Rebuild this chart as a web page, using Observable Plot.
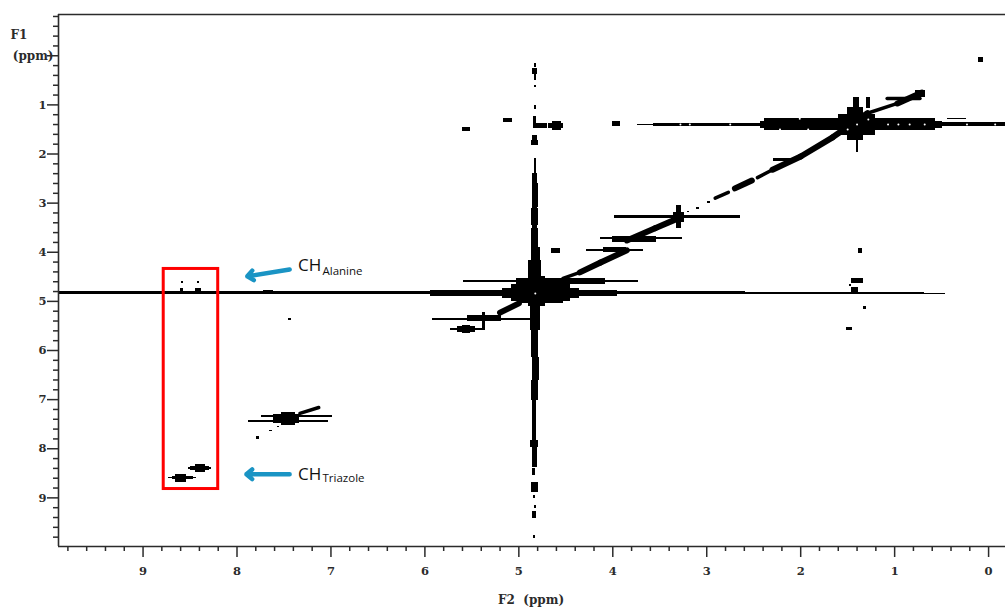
<!DOCTYPE html>
<html>
<head>
<meta charset="utf-8">
<style>html,body{margin:0;padding:0;background:#fff;overflow:hidden}svg{display:block}</style>
<script src="https://cdn.jsdelivr.net/npm/d3@7"></script>
<script src="https://cdn.jsdelivr.net/npm/@observablehq/plot@0.6"></script>
</head>
<body>
<script>
// 2D NMR contour read-off, all values in ppm: [F2 left, F2 right, F1 top, F1 bottom]
const horizontalRidges = [
  [9.90,5.94,4.80,4.87],[5.94,5.15,4.78,4.90],[4.35,3.95,4.78,4.90],[3.95,2.59,4.80,4.87],
  [2.59,0.68,4.81,4.86],[0.68,0.46,4.84,4.86],
  [5.59,3.73,4.57,4.62],[5.02,4.08,4.54,4.65],
  [5.92,4.88,5.34,5.38],[5.55,5.18,5.29,5.41],
  [3.98,2.64,3.26,3.31],
  [4.13,3.26,3.70,3.74],[4.00,3.53,3.67,3.80],
  [4.28,3.67,3.94,3.98],[4.10,3.85,3.91,4.01],
  [3.74,3.57,1.39,1.42],[3.57,2.43,1.37,1.44],[2.43,0.49,1.34,1.48],[2.38,0.57,1.28,1.52],
  [0.49,-0.18,1.36,1.44],[0.44,0.23,1.27,1.30],
  [7.88,7.03,7.42,7.46],[7.74,6.98,7.32,7.36],
  [2.29,2.02,2.09,2.15]
];
const verticalRidge = [
  [4.83,4.81,2.09,2.40],[4.85,4.805,2.40,2.60],[4.86,4.79,2.60,3.09],[4.85,4.80,3.09,3.11],[4.87,4.79,3.11,3.45],
  [4.85,4.80,3.45,3.52],[4.87,4.79,3.52,3.90],[4.87,4.77,3.90,4.17],[4.895,4.755,4.17,4.51],
  [4.88,4.77,4.98,5.59],[4.87,4.795,5.59,6.14],[4.86,4.78,6.14,6.61],[4.87,4.795,6.61,7.02],
  [4.85,4.815,7.02,7.83],[4.875,4.79,7.83,7.98],[4.85,4.80,7.98,8.38],[4.85,4.825,8.40,8.55],
  [4.87,4.79,8.69,8.89],[4.845,4.825,8.95,9.01],[4.835,4.815,9.16,9.22],[4.85,4.81,9.28,9.42],
  [4.84,4.82,9.77,9.83],
  [4.83,4.815,0.15,0.24],[4.85,4.805,0.26,0.38],[4.83,4.815,0.38,0.50],[4.83,4.815,0.60,0.64],
  [4.83,4.815,1.01,1.09],[4.84,4.81,1.23,1.48],[4.86,4.80,1.62,1.72],[4.87,4.79,1.72,1.82]
];
const waterBlob = [
  [5.17,4.35,4.74,4.95],[5.08,4.45,4.66,5.00],[5.00,4.53,4.55,5.05],[4.90,4.72,4.50,5.10]
];
const peaks = [
  [5.73,5.36,5.55,5.59],[5.65,5.46,5.51,5.63],[5.60,5.51,5.49,5.65],[5.39,5.36,5.23,5.55],
  [3.32,3.27,3.05,3.51],[3.35,3.24,3.19,3.39],
  [1.60,1.20,1.20,1.62],[1.50,1.33,1.05,1.72],[1.41,1.39,1.68,1.97],[1.44,1.37,0.85,1.17],[1.30,1.26,0.85,1.07],
  [0.11,0.05,0.04,0.13],
  [5.60,5.51,1.46,1.54],[5.16,5.07,1.28,1.36],[4.84,4.69,1.38,1.48],[4.68,4.52,1.38,1.48],[4.64,4.55,1.34,1.52],[4.00,3.92,1.34,1.44],
  [4.65,4.56,3.92,4.02],
  [1.39,1.34,3.92,4.02],[1.46,1.33,4.53,4.64],[1.48,1.46,4.66,4.70],[1.46,1.39,4.72,4.82],[1.33,1.30,5.10,5.17],[1.51,1.45,5.53,5.59],
  [8.59,8.57,4.59,4.64],[8.42,8.40,4.59,4.64],[8.60,8.57,4.73,4.81],[8.44,8.38,4.73,4.81],
  [7.72,7.61,4.78,4.81],[7.45,7.42,5.35,5.39],
  [7.61,7.33,7.30,7.48],[7.53,7.38,7.26,7.53],
  [7.65,7.62,7.62,7.65],[7.79,7.76,7.75,7.81],[7.565,7.55,7.54,7.56],
  [8.73,8.43,8.58,8.61],[8.69,8.46,8.555,8.635],[8.65,8.54,8.53,8.68],
  [8.52,8.27,8.39,8.42],[8.49,8.29,8.365,8.445],[8.44,8.33,8.32,8.49],
  [2.99,2.96,2.96,3.00],[3.11,3.08,3.09,3.13],[3.20,3.18,3.18,3.20],
  [0.78,0.67,0.70,0.84]
];
// diagonal ridges: [F2 from, F1 from, F2 to, F1 to]
const diagonalWide = [
  [3.28,3.29,3.55,3.51],[3.55,3.51,3.85,3.76],
  [3.85,3.96,4.13,4.21],[4.13,4.21,4.35,4.41],[5.00,5.04,5.20,5.23],
  [2.52,2.54,2.70,2.70],[2.30,2.32,2.00,2.05],[2.00,2.05,1.66,1.66],[1.66,1.66,1.29,1.17],[0.97,0.97,0.71,0.75]
];
const diagonalNarrow = [
  [4.35,4.41,4.53,4.53],
  [2.46,2.48,2.30,2.32],[1.29,1.17,0.97,0.97],
  [1.08,0.87,0.73,0.87],[2.77,2.78,2.91,2.90],[7.33,7.28,7.13,7.16]
];
const holes = [
  [4.825,4.84],[2.01,1.28],[1.92,1.50],[2.22,1.50],[1.07,1.40],[0.96,1.40],[0.84,1.40],[0.68,1.40],
  [1.50,1.50],[1.28,1.30],[1.40,1.40],[0.23,1.40],[-0.07,1.40],[3.28,1.40],[3.18,1.40],[2.75,1.40]
];
const regionBox = [[8.78,8.20,4.34,8.82]];
const arrows = [[7.44,4.35,7.89,4.49],[7.44,8.52,7.90,8.52]];
const mainLabels = [["CH",7.35,4.27],["CH",7.35,8.52]];
const subLabels = [["Alanine",7.09,4.38],["Triazole",7.09,8.60]];
const axisTitles = [["F1",10.32,-0.41],["(ppm)",10.17,0.01],["F2  (ppm)",4.87,11.09]];
const f2Major = [9,8,7,6,5,4,3,2,1,0];
const f2Minor = d3.range(49).map(i => +(9.8 - i * 0.2).toFixed(1)).filter(v => v >= 0 && !Number.isInteger(v));
const f1Major = [0,1,2,3,4,5,6,7,8,9];
const f1Minor = d3.range(54).map(i => +(-0.8 + i * 0.2).toFixed(1)).filter(v => !Number.isInteger(v));

const ink = "#000", axisInk = "#2b2b2b", blue = "#1a94c4";
const contour = rows => Plot.rect(rows, {x1:d=>d[0],x2:d=>d[1],y1:d=>d[2],y2:d=>d[3],fill:ink,shapeRendering:"crispEdges"});
const serif = "'DejaVu Serif', serif";

const chart = Plot.plot({
  width:1005, height:607, marginLeft:58, marginRight:0, marginTop:14, marginBottom:61,
  style:{background:"#fff", fontFamily:serif, fontSize:"11.5px", fontWeight:"bold", color:axisInk},
  x:{domain:[9.9,-0.18]},
  y:{domain:[9.99,-0.84]},
  marks:[
    contour(horizontalRidges),
    contour(verticalRidge),
    contour(waterBlob),
    contour(peaks),
    Plot.link(diagonalWide,{x1:d=>d[0],y1:d=>d[1],x2:d=>d[2],y2:d=>d[3],stroke:ink,strokeWidth:6,strokeLinecap:"round"}),
    Plot.link(diagonalNarrow,{x1:d=>d[0],y1:d=>d[1],x2:d=>d[2],y2:d=>d[3],stroke:ink,strokeWidth:3.5,strokeLinecap:"round"}),
    Plot.dot(holes,{x:d=>d[0],y:d=>d[1],r:1,fill:"#fff"}),
    Plot.rect(regionBox,{x1:d=>d[0],x2:d=>d[1],y1:d=>d[2],y2:d=>d[3],fill:"none",stroke:"#f00",strokeWidth:3}),
    Plot.arrow(arrows,{x1:d=>d[0],y1:d=>d[1],x2:d=>d[2],y2:d=>d[3],stroke:blue,strokeWidth:4.5,headLength:2.5,headAngle:80}),
    Plot.text(mainLabels,{text:d=>d[0],x:d=>d[1],y:d=>d[2],textAnchor:"start",fontFamily:"'Open Sans',sans-serif",fontSize:17,fontWeight:"normal",fill:"#111"}),
    Plot.text(subLabels,{text:d=>d[0],x:d=>d[1],y:d=>d[2],textAnchor:"start",fontFamily:"'Open Sans',sans-serif",fontSize:11.5,fontWeight:"normal",fill:"#111"}),
    Plot.axisX(f2Major,{anchor:"bottom",tickSize:11,tickPadding:9,label:null,stroke:axisInk,strokeWidth:1.5,fill:axisInk}),
    Plot.axisX(f2Minor,{anchor:"bottom",tickSize:5,text:null,label:null,stroke:axisInk,strokeWidth:1.5}),
    Plot.axisY(f1Major,{anchor:"left",tickSize:11,tickPadding:1,label:null,stroke:axisInk,strokeWidth:1.5,fill:axisInk,tickFormat:d=>d===0?"":d}),
    Plot.axisY(f1Minor,{anchor:"left",tickSize:5,text:null,label:null,stroke:axisInk,strokeWidth:1.5}),
    Plot.ruleY([-0.84,9.99],{stroke:axisInk,strokeWidth:1.6}),
    Plot.ruleX([9.9],{stroke:axisInk,strokeWidth:1.6}),
    Plot.text(axisTitles,{text:d=>d[0],x:d=>d[1],y:d=>d[2],fill:axisInk,fontFamily:serif,fontSize:12,fontWeight:"bold"})
  ]
});
document.body.appendChild(chart);
</script>
</body>
</html>
